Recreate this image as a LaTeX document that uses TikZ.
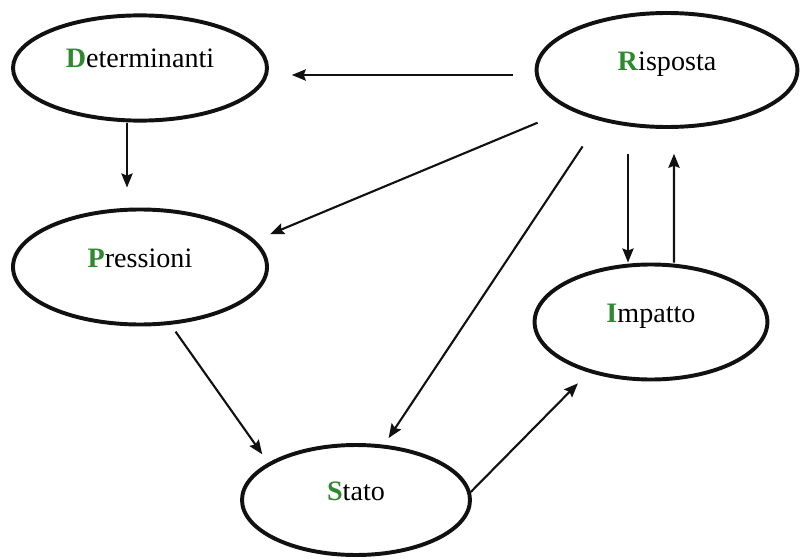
\documentclass[tikz,border=0pt]{standalone}
\usepackage{fontspec}
\setmainfont{Liberation Serif}
\definecolor{Initcol}{HTML}{2F8A2F}
\definecolor{Linecol}{HTML}{111111}
\usetikzlibrary{arrows.meta, positioning, shapes.geometric}
\tikzset{
    >={Stealth[length=10pt, width=8pt, inset=1.5pt]},
    font=\fontsize{20}{24}\selectfont,
    phase/.style={ellipse, draw=Linecol, line width=2.8pt, inner sep=0pt,
        text height=14pt, text depth=14pt},
    flow/.style={->, Linecol, line width=1.5pt}
}
\begin{document}
\begin{tikzpicture}
    \useasboundingbox (0,0) rectangle (20.2,-14);

    % DPSIR phases
    \node[phase, minimum width=6.35cm, minimum height=2.63cm] (det) at (3.5,-1.7)
        {\textcolor{Initcol}{\textbf{D}}eterminanti};
    \node[phase, minimum width=6.52cm, minimum height=2.85cm] (ris) at (16.675,-1.75)
        {\textcolor{Initcol}{\textbf{R}}isposta};
    \node[phase, minimum width=6.35cm, minimum height=2.875cm] (pre) at (3.5,-6.675)
        {\textcolor{Initcol}{\textbf{P}}ressioni};
    \node[phase, minimum width=5.82cm, minimum height=2.875cm] (imp) at (16.275,-8.05)
        {\textcolor{Initcol}{\textbf{I}}mpatto};
    \node[phase, minimum width=5.7cm, minimum height=2.75cm] (sta) at (8.9,-12.5)
        {\textcolor{Initcol}{\textbf{S}}tato};

    % Links from Risposta
    \draw[flow, shorten <=0.55cm, shorten >=0.57cm]
        ([yshift=-0.125cm]ris.west) -- ([yshift=-0.125cm]ris.west -| det.east);
    \draw[flow, shorten <=0.85cm, shorten >=0.4cm] (ris.202) -- (pre.13);
    \draw[flow, shorten <=0.77cm, shorten >=0.2cm] (ris.217) -- (sta.63);
    \draw[flow, shorten <=0.62cm] ([xshift=-0.975cm]ris.south) -- ([xshift=-0.575cm]imp.north);

    % Remaining chain
    \draw[flow] ([xshift=-0.325cm]det.south) -- ([xshift=-0.325cm,yshift=0.5cm]pre.north);
    \draw[flow, shorten <=0.21cm, shorten >=0.26cm] (pre.-62) -- (sta.157);
    \draw[flow, shorten >=0.38cm] (sta.4) -- (imp.219);
    \draw[flow, shorten >=0.62cm] ([xshift=0.575cm]imp.north) -- ([xshift=0.175cm]ris.south);
\end{tikzpicture}
\end{document}
